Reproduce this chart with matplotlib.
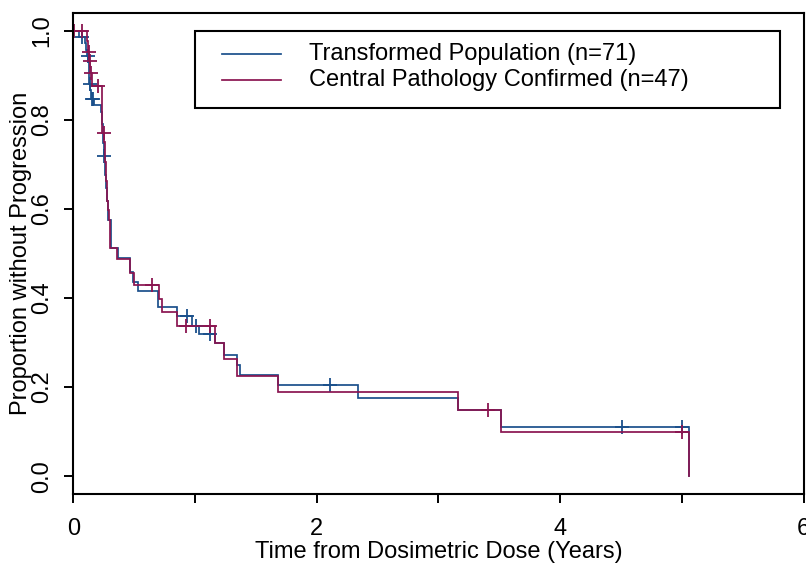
import numpy as np
import matplotlib
matplotlib.use("Agg")
import matplotlib.pyplot as plt
from matplotlib.lines import Line2D
from matplotlib.patches import Rectangle

plt.rcParams['font.family'] = ['Liberation Sans', 'DejaVu Sans']

# Kaplan-Meier estimates: event times (years) and survival after each step
transformed_label = "Transformed Population (n=71)"
transformed_times = [0.05, 0.096, 0.105, 0.112, 0.122, 0.126, 0.129, 0.132, 0.14, 0.148,
                     0.17, 0.227, 0.232, 0.236, 0.240, 0.244, 0.248, 0.251, 0.254, 0.258,
                     0.262, 0.266, 0.270, 0.274, 0.279, 0.283, 0.286, 0.288, 0.310, 0.365,
                     0.466, 0.49, 0.534, 0.698, 0.85, 0.973, 1.033, 1.164, 1.238, 1.342,
                     1.368, 1.685, 2.34, 3.16, 3.515, 5.06]
transformed_surv = [0.986, 0.972, 0.958, 0.944, 0.930, 0.915, 0.901, 0.880, 0.866, 0.846,
                    0.833, 0.818, 0.804, 0.790, 0.776, 0.762, 0.748, 0.734, 0.720, 0.692,
                    0.677, 0.662, 0.647, 0.632, 0.617, 0.602, 0.589, 0.575, 0.512, 0.491,
                    0.459, 0.435, 0.416, 0.380, 0.360, 0.338, 0.320, 0.298, 0.272, 0.250,
                    0.228, 0.205, 0.175, 0.148, 0.110, 0.0]
transformed_censor = [0.069, 0.118, 0.135, 0.152, 0.163, 0.255, 0.936, 1.01, 1.125,
                      2.11, 4.51, 5.0]

central_label = "Central Pathology Confirmed (n=47)"
central_times = [0.11, 0.118, 0.13, 0.138, 0.15, 0.236, 0.253, 0.258, 0.262, 0.266,
                 0.270, 0.275, 0.279, 0.284, 0.290, 0.305, 0.362, 0.47, 0.499, 0.707,
                 0.726, 0.855, 1.164, 1.238, 1.342, 1.685, 3.16, 3.515, 5.06]
central_surv = [0.977, 0.953, 0.932, 0.905, 0.877, 0.771, 0.750, 0.728, 0.706, 0.684,
                0.662, 0.640, 0.618, 0.597, 0.576, 0.513, 0.487, 0.457, 0.430, 0.398,
                0.369, 0.337, 0.298, 0.263, 0.225, 0.188, 0.149, 0.099, 0.0]
central_censor = [0.005, 0.069, 0.125, 0.134, 0.142, 0.205, 0.25, 0.645, 0.93, 1.125,
                  3.41, 5.0]

blue = "#1a4f8b"
purple = "#8a1550"

x_ticks = [0, 1, 2, 3, 4, 5, 6]
x_ticklabels = ["0", "", "2", "", "4", "", "6"]
y_ticks = [0.0, 0.2, 0.4, 0.6, 0.8, 1.0]
y_ticklabels = ["0.0", "0.2", "0.4", "0.6", "0.8", "1.0"]

W, H = 806, 564
def fx(px):
    return px / W
def fy(py):
    return 1 - py / H

fig = plt.figure(figsize=(W / 100, H / 100), dpi=100)
ax = fig.add_axes([fx(73.3), fy(494), (803.5 - 73.3) / W, (494 - 13) / H])
ax.set_xlim(0, 6)
ax.set_ylim(-0.04, 1.04)


def km_curve(times, surv, censor, color):
    t = np.concatenate([[0.0], times])
    s = np.concatenate([[1.0], surv])
    ax.step(t, s, where="post", color=color, lw=1.25, solid_joinstyle="miter")
    c = np.asarray(censor)
    idx = np.searchsorted(t, c, side="right") - 1
    ax.plot(c, s[idx], linestyle="none", marker="+", ms=9.5, mew=1.3, color=color)


km_curve(transformed_times, transformed_surv, transformed_censor, blue)
km_curve(central_times, central_surv, central_censor, purple)

for sp in ax.spines.values():
    sp.set_linewidth(1.5)

ax.set_xticks(x_ticks)
ax.set_xticklabels(x_ticklabels)
ax.set_yticks(y_ticks)
ax.set_yticklabels(y_ticklabels, rotation=90, va="center")
ax.tick_params(axis="both", direction="out", length=6.5, width=1.4, labelsize=17,
               color="black")
ax.tick_params(axis="x", pad=11)
ax.tick_params(axis="y", pad=8)

ax.set_xlabel("Time from Dosimetric Dose (Years)", fontsize=17, va="baseline")
ax.xaxis.set_label_coords(0.5, -(558 - 494) / (494 - 13))
ax.set_ylabel("Proportion without Progression", fontsize=17, va="center")
ax.yaxis.set_label_coords(-(73.3 - 21) / (803.5 - 73.3), 0.5)

# legend box
fig.add_artist(Rectangle((fx(195), fy(108)), (780 - 195) / W, (108 - 31) / H,
                         transform=fig.transFigure, fill=False, lw=1.5,
                         edgecolor="black"))
for yy, col, lab in [(54.3, blue, transformed_label), (80.3, purple, central_label)]:
    fig.add_artist(Line2D([fx(222), fx(281)], [fy(yy), fy(yy)],
                          transform=fig.transFigure, color=col, lw=1.25))
    fig.text(fx(309), fy(yy), lab, fontsize=17, va="center", ha="left")

fig.savefig("out.png", dpi=100)
